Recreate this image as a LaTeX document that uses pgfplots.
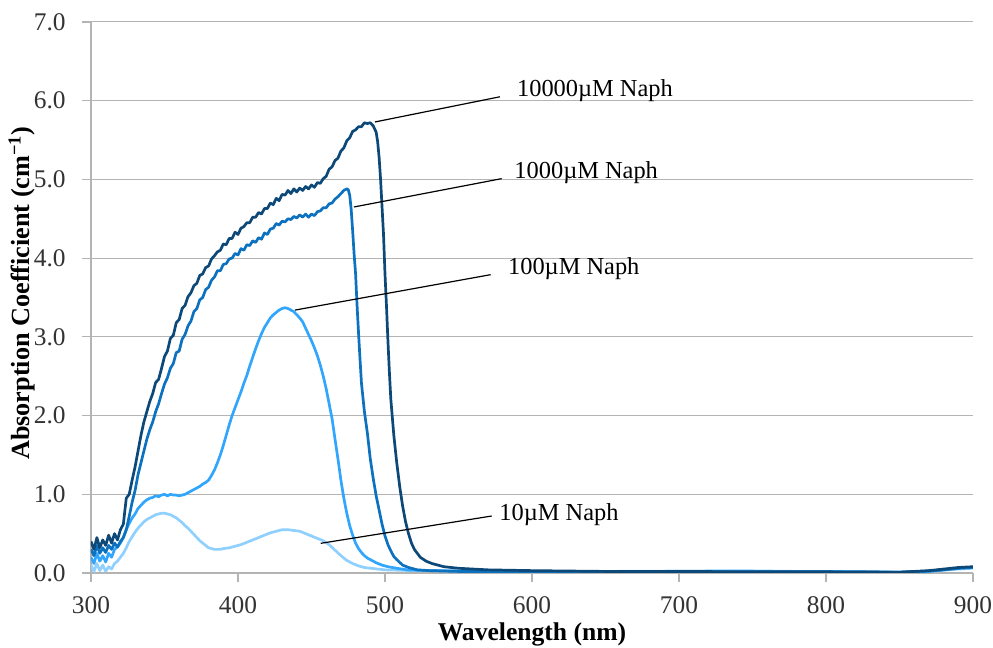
\documentclass[border=0pt]{standalone}
\usepackage{fontspec}
\setmainfont{Liberation Serif}
\usepackage{pgfplots}
\pgfplotsset{compat=1.18}
\definecolor{cA}{RGB}{12,72,120}
\definecolor{cB}{RGB}{12,114,192}
\definecolor{cC}{RGB}{50,166,252}
\definecolor{cD}{RGB}{143,208,255}
\definecolor{gridc}{RGB}{180,180,180}
\begin{document}
\begin{tikzpicture}
\useasboundingbox (-45.5pt,-37.5pt) rectangle (451pt,286.5pt);
\begin{axis}[
  at={(0,0)}, anchor=south west,
  scale only axis, width=441pt, height=275.5pt,
  xmin=300, xmax=900, ymin=0, ymax=7,
  xtick={300,400,...,900}, ytick={0,1,...,7},
  axis x line*=bottom, axis y line*=left,
  axis line style={gridc, line width=0.7pt, -},
  ymajorgrids, grid style={gridc, line width=0.5pt},
  tick align=outside, major tick length=4.5pt,
  tick style={gridc, line width=0.6pt},
  /pgf/number format/assume math mode=true,
  yticklabel={\pgfmathprintnumber[fixed,fixed zerofill,precision=1]{\tick}},
  xticklabel style={font=\fontsize{12.7}{14}\selectfont, text=black!80, anchor=center, inner sep=0pt, yshift=-11.5pt},
  yticklabel style={font=\fontsize{12.7}{14}\selectfont, text=black!80, anchor=east, inner sep=0pt, xshift=-8pt},
  scaled ticks=false,
  xlabel={Wavelength (nm)},
  ylabel={Absorption Coefficient (cm\textsuperscript{−1})},
  xlabel style={font=\fontsize{12.8}{14}\bfseries, at={(axis description cs:0.5,-0.1107)}, anchor=center, inner sep=0pt},
  ylabel style={font=\fontsize{13.1}{14}\bfseries, at={(axis description cs:-0.0786,0.508)}, anchor=center, inner sep=0pt},
  clip=true,
]
% 10 uM
\addplot[cD, line width=1.35pt, line join=round] table {
x y
300 0.10
302 0.02
304 0.12
306 0.03
308 0.10
310 0.02
312 0.08
314 0.05
316 0.12
318 0.15
320 0.20
322 0.25
324 0.32
326 0.40
328 0.46
330 0.52
332 0.57
334 0.61
336 0.65
338 0.68
340 0.70
342 0.72
344 0.74
346 0.75
348 0.76
350 0.76
352 0.75
354 0.74
356 0.72
358 0.70
360 0.67
362 0.64
364 0.60
366 0.57
368 0.53
370 0.49
372 0.45
374 0.41
376 0.38
378 0.35
380 0.32
382 0.31
384 0.30
386 0.30
388 0.30
390 0.31
394 0.32
398 0.34
402 0.36
406 0.39
410 0.42
414 0.45
418 0.48
422 0.51
426 0.53
430 0.55
434 0.55
438 0.54
442 0.53
446 0.50
450 0.47
454 0.44
458 0.41
462 0.36
466 0.29
470 0.22
474 0.16
478 0.12
482 0.09
486 0.07
490 0.06
500 0.04
520 0.03
560 0.03
600 0.02
650 0.02
700 0.025
740 0.03
780 0.02
820 0.02
850 0.01
870 0.02
880 0.035
890 0.05
900 0.06
};
% 100 uM
\addplot[cC, line width=1.35pt, line join=round] table {
x y
300 0.20
302 0.12
304 0.25
306 0.15
308 0.22
310 0.14
312 0.25
314 0.20
316 0.30
318 0.33
320 0.38
322 0.45
324 0.55
326 0.63
328 0.70
330 0.75
332 0.82
334 0.86
336 0.90
338 0.93
340 0.95
342 0.96
344 0.98
346 0.97
348 0.99
350 1.00
352 0.98
354 1.00
356 0.99
358 0.99
360 0.98
362 0.99
364 1.00
366 1.02
368 1.04
370 1.06
372 1.08
374 1.10
376 1.13
378 1.15
380 1.18
382 1.24
384 1.31
386 1.40
388 1.50
390 1.62
392 1.75
394 1.88
396 2.00
398 2.10
400 2.20
402 2.30
404 2.41
406 2.51
408 2.63
410 2.74
412 2.85
414 2.95
416 3.04
418 3.12
420 3.18
422 3.24
424 3.28
426 3.31
428 3.34
430 3.36
432 3.37
434 3.36
436 3.34
438 3.32
440 3.28
442 3.24
444 3.19
446 3.11
448 3.03
450 2.95
452 2.86
454 2.76
456 2.64
458 2.50
460 2.34
462 2.15
464 1.96
466 1.70
468 1.45
470 1.18
472 0.95
474 0.76
476 0.60
478 0.48
480 0.38
482 0.31
484 0.26
486 0.22
488 0.19
490 0.17
494 0.13
498 0.10
502 0.08
508 0.06
515 0.04
530 0.03
560 0.02
600 0.02
700 0.02
800 0.02
850 0.01
870 0.02
880 0.04
890 0.06
900 0.07
};
% 1000 uM
\addplot[cB, line width=1.35pt, line join=round] table {
x y
300 0.30
302 0.22
304 0.35
306 0.25
308 0.32
310 0.26
312 0.35
314 0.30
316 0.38
318 0.33
320 0.40
322 0.45
324 0.55
326 0.72
328 0.90
330 1.05
332 1.25
334 1.40
336 1.55
338 1.70
340 1.82
342 1.92
344 2.05
346 2.15
348 2.28
350 2.40
352 2.48
354 2.60
356 2.66
358 2.80
360 2.82
362 2.97
364 3.03
366 3.14
368 3.20
370 3.32
372 3.36
374 3.47
376 3.50
378 3.60
380 3.63
382 3.72
384 3.76
386 3.84
388 3.84
390 3.92
392 3.93
394 3.99
396 4.00
398 4.06
400 4.04
402 4.12
404 4.10
406 4.17
408 4.16
410 4.22
412 4.20
414 4.26
416 4.24
418 4.32
420 4.30
422 4.37
424 4.38
426 4.44
428 4.42
430 4.47
432 4.46
434 4.50
436 4.49
438 4.53
440 4.51
442 4.55
444 4.52
446 4.56
448 4.52
450 4.56
452 4.54
454 4.59
456 4.60
458 4.64
460 4.64
462 4.69
464 4.70
466 4.75
468 4.78
470 4.82
472 4.86
474 4.88
475 4.87
476 4.80
477 4.62
478 4.35
479 4.05
480 3.80
481 3.40
482 3.05
483 2.72
484 2.41
486 2.05
488 1.78
490 1.45
492 1.20
494 0.98
496 0.80
498 0.62
500 0.47
502 0.36
504 0.28
506 0.21
508 0.17
512 0.10
516 0.07
522 0.04
530 0.03
550 0.02
600 0.02
650 0.015
700 0.015
750 0.01
800 0.01
850 0.01
870 0.025
880 0.04
890 0.06
900 0.07
};
% 10000 uM
\addplot[cA, line width=1.35pt, line join=round] table {
x y
300 0.40
302 0.30
304 0.45
306 0.32
308 0.42
310 0.35
312 0.48
314 0.38
316 0.50
318 0.42
320 0.55
322 0.62
324 0.95
326 1.00
328 1.18
330 1.35
332 1.55
334 1.75
336 1.92
338 2.05
340 2.18
342 2.28
344 2.42
346 2.46
348 2.60
350 2.75
352 2.82
354 2.98
356 3.02
358 3.18
360 3.22
362 3.36
364 3.40
366 3.51
368 3.56
370 3.65
372 3.68
374 3.78
376 3.80
378 3.88
380 3.90
382 3.99
384 4.03
386 4.08
388 4.10
390 4.18
392 4.17
394 4.25
396 4.25
398 4.33
400 4.30
402 4.38
404 4.40
406 4.45
408 4.45
410 4.52
412 4.52
414 4.58
416 4.56
418 4.63
420 4.63
422 4.70
424 4.68
426 4.76
428 4.73
430 4.81
432 4.80
434 4.86
436 4.82
438 4.88
440 4.84
442 4.89
444 4.86
446 4.91
448 4.88
450 4.93
452 4.90
454 4.96
456 4.95
458 5.01
460 5.04
462 5.13
464 5.16
466 5.24
468 5.27
470 5.36
472 5.40
474 5.49
476 5.53
478 5.61
480 5.63
482 5.67
484 5.67
486 5.72
488 5.71
490 5.72
492 5.68
494 5.60
495 5.48
496 5.28
497 5.00
498 4.65
499 4.30
500 3.80
501 3.40
502 2.95
503 2.55
504 2.20
506 1.75
508 1.40
510 1.10
512 0.85
514 0.65
516 0.50
518 0.38
520 0.30
524 0.20
528 0.15
532 0.12
540 0.08
550 0.06
570 0.04
600 0.03
650 0.02
700 0.02
750 0.015
800 0.015
850 0.01
870 0.03
880 0.05
890 0.07
900 0.08
};
% annotations
\draw[black, line width=0.6pt] (axis cs:493.2,5.73) -- (axis cs:578.2,6.05);
\draw[black, line width=0.6pt] (axis cs:478.9,4.65) -- (axis cs:579.4,5.01);
\draw[black, line width=0.6pt] (axis cs:438.8,3.34) -- (axis cs:571.9,3.79);
\draw[black, line width=0.6pt] (axis cs:456.3,0.377) -- (axis cs:572.6,0.724);
\node[anchor=west, inner sep=0pt, font=\fontsize{12.2}{14}\selectfont] at (axis cs:589.6,6.13) {10000µM Naph};
\node[anchor=west, inner sep=0pt, font=\fontsize{12.2}{14}\selectfont] at (axis cs:587.8,5.08) {1000µM Naph};
\node[anchor=west, inner sep=0pt, font=\fontsize{12.2}{14}\selectfont] at (axis cs:583.5,3.87) {100µM Naph};
\node[anchor=west, inner sep=0pt, font=\fontsize{12.2}{14}\selectfont] at (axis cs:577.6,0.737) {10µM Naph};
\end{axis}
\end{tikzpicture}
\end{document}
